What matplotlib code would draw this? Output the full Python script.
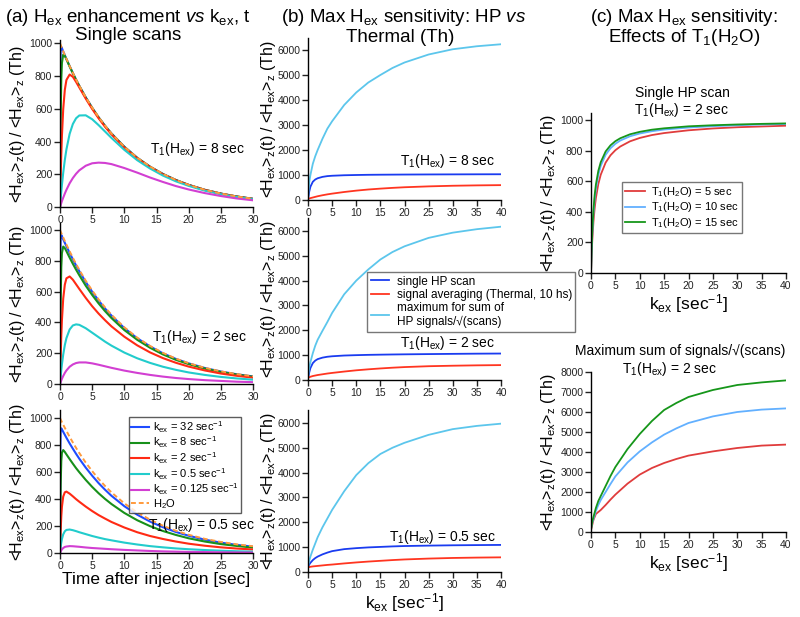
import matplotlib
matplotlib.use("Agg")
import matplotlib.pyplot as plt

plt.rcParams['font.family'] = ['Liberation Sans', 'DejaVu Sans']
plt.rcParams['mathtext.fontset'] = 'custom'
plt.rcParams['mathtext.rm'] = 'Liberation Sans'
plt.rcParams['mathtext.it'] = 'Liberation Sans:italic'
plt.rcParams['mathtext.bf'] = 'Liberation Sans:bold'

# ---------------- data ----------------
t_a = [0, 0.05, 0.1, 0.2, 0.3, 0.5, 0.75, 1, 1.5, 2, 2.5, 3, 4, 5, 6, 7, 8, 10, 12, 14, 16, 18, 20, 22.5, 25, 27.5, 30]
h2o = [1000,995,990,980,970,951,928,905,861,819,779,741,670,607,549,497,449,368,301,247,202,165,135,105,82,64,50]

a1_k32 = [0,794,949,978,970,950,927,904,860,818,778,740,670,606,548,496,449,368,301,246,202,165,135,105,82,64,50]
a1_k8 = [0,328,545,781,880,931,923,902,858,816,776,739,668,605,547,495,448,367,300,246,201,165,135,105,82,64,50]
a1_k2 = [0,95,179,322,436,598,716,776,809,795,764,730,662,599,542,490,444,363,297,244,199,163,134,104,81,63,49]
a1_k05 = [0,25,48,93,135,209,288,352,447,507,542,559,560,536,500,461,422,349,286,235,192,157,129,100,78,61,47]
a1_k0125 = [0,6,12,24,36,57,82,105,145,177,203,224,252,267,271,269,262,238,210,180,153,128,107,85,67,52,41]

a2_k32 = [0,788,940,967,958,939,916,894,850,809,769,732,662,599,542,490,444,363,297,244,199,163,134,104,81,63,49]
a2_k8 = [0,325,536,760,850,892,882,862,820,780,742,706,638,578,523,473,428,350,287,235,192,157,129,100,78,61,47]
a2_k2 = [0,94,176,311,415,554,645,686,698,677,647,617,559,505,457,414,374,307,251,205,168,138,113,88,68,53,41]
a2_k05 = [0,24,47,90,128,191,253,298,354,380,387,384,362,333,304,275,249,204,167,137,112,92,75,59,46,36,28]
a2_k0125 = [0,6,12,23,34,52,72,88,112,127,136,140,140,134,125,115,105,87,72,59,48,39,32,25,20,15,12]

a3_k32 = [0,767,903,924,916,898,876,854,812,773,735,699,633,573,518,469,424,347,284,233,191,156,128,99,77,60,47]
a3_k8 = [0,314,503,683,744,763,749,731,696,662,629,599,542,490,443,401,363,297,243,199,163,134,109,85,66,52,40]
a3_k2 = [0,90,164,272,343,418,450,455,440,420,399,380,344,311,281,255,230,189,154,126,104,85,69,54,42,33,26]
a3_k05 = [0,23,44,78,104,138,161,171,174,169,162,154,140,126,114,103,94,77,63,51,42,34,28,22,17,13,10]
a3_k0125 = [0,6,11,20,27,37,45,48,51,50,48,46,41,37,34,31,28,23,19,15,12,10,8,7,5,4,3]

k_b = [0, 0.25, 0.5, 1, 1.5, 2, 3, 4, 5, 7.5, 10, 12.5, 15, 17.5, 20, 25, 30, 35, 40]
b1_single = [30, 330, 530, 730, 820, 870, 925, 955, 970, 990, 1000, 1008, 1012, 1015, 1018, 1022, 1025, 1028, 1030]
b1_avg = [40, 60, 75, 100, 125, 150, 190, 225, 255, 320, 375, 420, 455, 485, 510, 545, 570, 585, 595]
b1_sum = [60, 700, 1000, 1450, 1750, 2000, 2450, 2850, 3150, 3800, 4300, 4700, 5000, 5280, 5500, 5820, 6030, 6150, 6230]
b2_single = [50, 300, 480, 680, 780, 840, 900, 935, 955, 985, 1000, 1012, 1020, 1027, 1033, 1043, 1052, 1060, 1065]
b2_avg = [80, 110, 130, 160, 180, 200, 230, 260, 285, 340, 390, 430, 465, 495, 520, 555, 575, 590, 600]
b2_sum = [100, 500, 720, 1080, 1380, 1620, 1980, 2330, 2700, 3450, 4000, 4450, 4850, 5150, 5380, 5720, 5930, 6070, 6170]
b3_single = [200, 300, 370, 480, 560, 620, 710, 780, 840, 920, 960, 990, 1010, 1030, 1045, 1062, 1075, 1083, 1090]
b3_avg = [190, 200, 210, 225, 235, 245, 265, 285, 300, 345, 385, 420, 450, 480, 505, 540, 565, 580, 590]
b3_sum = [200, 450, 620, 900, 1150, 1400, 1800, 2150, 2500, 3250, 3900, 4380, 4750, 5000, 5200, 5520, 5750, 5880, 5970]

k_c1 = [0, 0.1, 0.25, 0.5, 0.75, 1, 1.5, 2, 3, 4, 5, 6, 8, 10, 12.5, 15, 20, 25, 30, 35, 40]
c1_w5 = [0,96,206,334,423,489,581,642,721,769,802,826,860,882,901,914,932,944,952,957,962]
c1_w10 = [0,116,244,387,482,549,641,700,772,815,844,865,893,911,926,937,950,959,965,970,973]
c1_w15 = [0,127,263,412,509,577,667,724,794,834,861,880,906,922,936,945,958,965,970,974,977]

k_c2 = [0, 0.25, 0.5, 1, 1.5, 2, 3, 4, 5, 7.5, 10, 12.5, 15, 17.5, 20, 25, 30, 35, 40]
c2_w5 = [100, 350, 600, 900, 1000, 1100, 1350, 1620, 1870, 2420, 2870, 3200, 3450, 3650, 3820, 4030, 4200, 4320, 4370]
c2_w10 = [150, 450, 650, 1050, 1350, 1600, 2000, 2400, 2780, 3480, 4030, 4480, 4870, 5180, 5450, 5780, 6000, 6120, 6180]
c2_w15 = [120, 500, 750, 1200, 1550, 1800, 2300, 2800, 3250, 4150, 4900, 5550, 6100, 6450, 6750, 7100, 7350, 7480, 7580]

kex_labels = [r"k$_{\rm ex}$ = 32 sec$^{-1}$", r"k$_{\rm ex}$ = 8 sec$^{-1}$", r"k$_{\rm ex}$ = 2 sec$^{-1}$",
              r"k$_{\rm ex}$ = 0.5 sec$^{-1}$", r"k$_{\rm ex}$ = 0.125 sec$^{-1}$"]
b_labels = ["single HP scan", "signal averaging (Thermal, 10 hs)",
            "maximum for sum of\nHP signals/\u221a(scans)"]
c_labels = [r"T$_1$(H$_2$O) = 5 sec", r"T$_1$(H$_2$O) = 10 sec", r"T$_1$(H$_2$O) = 15 sec"]

# ---------------- style ----------------
a_cols = ['#1f4cff', '#17901a', '#ff2a14', '#22cccc', '#d23fd2']
h2o_col = '#ff9a3c'
b_cols = ['#1a3cf0', '#ff3520', '#5cc6ec']
c_cols = ['#e03c3c', '#62b0ff', '#16961a']

W, H = 800, 617
fig = plt.figure(figsize=(W/100, H/100), dpi=100)

def px(x, y):
    return x / W, 1 - y / H

def add_ax(x0, x1, ytop, ybot):
    return fig.add_axes([x0/W, 1-ybot/H, (x1-x0)/W, (ybot-ytop)/H])

YL = r"<H$_{\rm ex}$>$_{\rm z}$(t) / <H$_{\rm ex}$>$_{\rm z}$ (Th)"
KL = r"k$_{\rm ex}$ [sec$^{-1}$]"
T1 = r"T$_1$(H$_{\rm ex}$) = "

def style(ax, xlim, xt, ylim, yt, lab_x):
    ax.set_xlim(*xlim); ax.set_ylim(*ylim)
    ax.set_xticks(xt); ax.set_yticks(yt)
    for s in ['top', 'right']:
        ax.spines[s].set_visible(False)
    for s in ['left', 'bottom']:
        ax.spines[s].set_linewidth(1.0)
    ax.tick_params(direction='out', length=4, width=1, labelsize=7.5, pad=1.5, colors='#222222')
    ax.set_ylabel(YL, fontsize=11.5)
    ax.yaxis.set_label_coords(lab_x, 0.5)

def note(x, y, s, fs=10, ha='left'):
    fig.text(*px(x, y), s, ha=ha, va='center', fontsize=fs)

# column a
a_axes = [add_ax(60, 253, 40, 207), add_ax(60, 253, 223, 384), add_ax(60, 253, 410, 553)]
a_sets = [[a1_k32, a1_k8, a1_k2, a1_k05, a1_k0125],
          [a2_k32, a2_k8, a2_k2, a2_k05, a2_k0125],
          [a3_k32, a3_k8, a3_k2, a3_k05, a3_k0125]]
a_ylims = [(0, 1020), (0, 1045), (0, 1060)]
for ax, ser, yl in zip(a_axes, a_sets, a_ylims):
    for s, c, lab in zip(ser, a_cols, kex_labels):
        ax.plot(t_a, s, color=c, lw=1.5, label=lab)
    ax.plot(t_a, h2o, color=h2o_col, lw=1.4, ls=(0, (2.5, 1.5)), label="H$_2$O")
    style(ax, (0, 30), range(0, 31, 5), yl, range(0, 1001, 200), -0.17)
a_axes[2].set_xlabel("Time after injection [sec]", fontsize=12.5, labelpad=1)
leg = a_axes[2].legend(loc='upper left', bbox_to_anchor=px(129, 417), bbox_transform=fig.transFigure,
                       fontsize=8, frameon=True, fancybox=False, edgecolor='#333333',
                       handlelength=1.6, handletextpad=0.4, labelspacing=0.0, borderpad=0.2,
                       borderaxespad=0)
leg.get_frame().set_linewidth(1.0)
note(150, 149, T1 + "8 sec")
note(152, 337, T1 + "2 sec")
note(148, 525, T1 + "0.5 sec")

# column b
b_axes = [add_ax(308, 501, 38, 200), add_ax(308, 501, 218, 380), add_ax(308, 501, 410, 572)]
b_sets = [[b1_single, b1_avg, b1_sum], [b2_single, b2_avg, b2_sum], [b3_single, b3_avg, b3_sum]]
b_ylims = [(0, 6480), (0, 6520), (0, 6520)]
for ax, ser, yl in zip(b_axes, b_sets, b_ylims):
    for s, c, lab in zip(ser, b_cols, b_labels):
        ax.plot(k_b, s, color=c, lw=1.3, label=lab)
    style(ax, (0, 40), range(0, 41, 5), yl, range(0, 6001, 1000), -0.156)
b_axes[2].set_xlabel(KL, fontsize=12.5, labelpad=1)
leg = b_axes[1].legend(loc='upper left', bbox_to_anchor=px(367, 272), bbox_transform=fig.transFigure,
                       fontsize=8.5, frameon=True, fancybox=False, edgecolor='#555555',
                       handlelength=1.6, handletextpad=0.6, labelspacing=0.1, borderpad=0.3,
                       borderaxespad=0)
leg.get_frame().set_linewidth(1.0)
note(400, 161, T1 + "8 sec")
note(400, 343, T1 + "2 sec")
note(389, 537, T1 + "0.5 sec")

# column c
c1 = add_ax(591, 786, 113, 273)
for s, c, lab in zip([c1_w5, c1_w10, c1_w15], c_cols, c_labels):
    c1.plot(k_c1, s, color=c, lw=1.3, label=lab)
style(c1, (0, 40), range(0, 41, 5), (0, 1045), range(0, 1001, 200), -0.17)
c1.set_xlabel(KL, fontsize=12.5, labelpad=1)
leg = c1.legend(loc='upper left', bbox_to_anchor=px(622, 182), bbox_transform=fig.transFigure,
                fontsize=8, frameon=True, fancybox=False, edgecolor='#555555',
                handlelength=1.8, handletextpad=0.5, labelspacing=0.1, borderpad=0.3,
                borderaxespad=0)
leg.get_frame().set_linewidth(1.0)

c2 = add_ax(591, 786, 372, 532)
for s, c in zip([c2_w5, c2_w10, c2_w15], c_cols):
    c2.plot(k_c2, s, color=c, lw=1.3)
style(c2, (0, 40), range(0, 41, 5), (0, 8000), range(0, 8001, 1000), -0.17)
c2.set_xlabel(KL, fontsize=12.5, labelpad=1)

# titles
note(128, 17, r"(a) H$_{\rm ex}$ enhancement $vs$ k$_{\rm ex}$, t", fs=13.5, ha='center')
note(128, 36, "Single scans", fs=13.5, ha='center')
note(404, 17, r"(b) Max H$_{\rm ex}$ sensitivity: HP $vs$", fs=13.5, ha='center')
note(400, 38, "Thermal (Th)", fs=13.5, ha='center')
note(684, 18, r"(c) Max H$_{\rm ex}$ sensitivity:", fs=13.5, ha='center')
note(684, 37, r"Effects of T$_1$(H$_2$O)", fs=13.5, ha='center')
note(682, 93, "Single HP scan", fs=10, ha='center')
note(682, 110, T1 + "2 sec", fs=10, ha='center')
note(680, 351, "Maximum sum of signals/\u221a(scans)", fs=10, ha='center')
note(670, 369, T1 + "2 sec", fs=10, ha='center')

fig.savefig("out.png", dpi=100)
